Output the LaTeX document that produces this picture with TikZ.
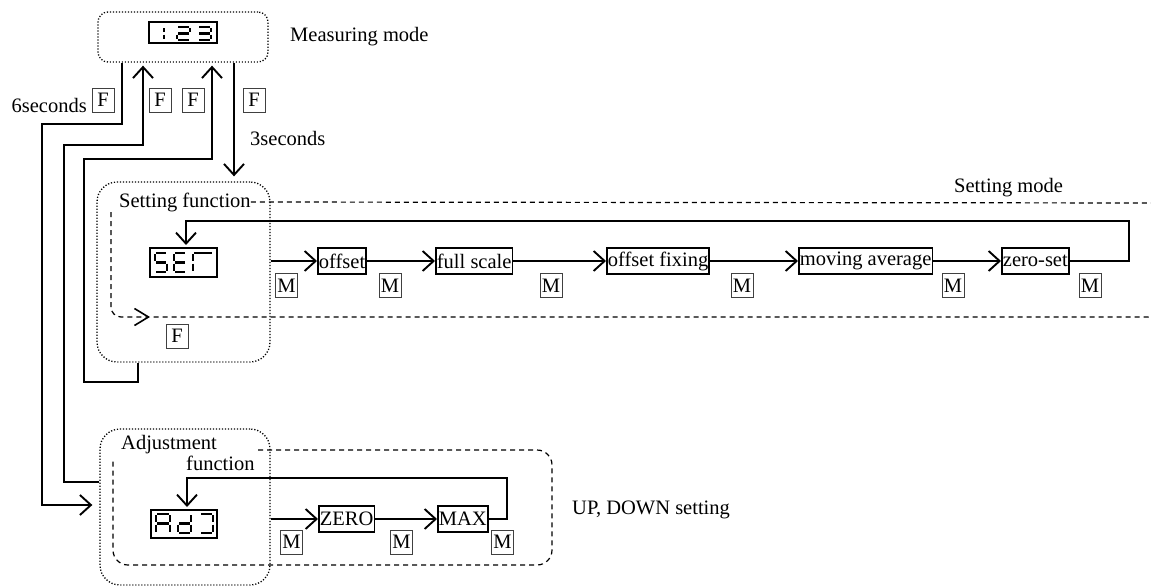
\documentclass[tikz,border=0pt]{standalone}
\usepackage{fontspec}
\setmainfont{Liberation Serif}
\usetikzlibrary{arrows.meta}
\newcommand\segdig[5]{\begin{scope}[shift={(#1,#2)}]\def\sgW{#3}\def\sgH{#4}#5\end{scope}}
\newcommand\sgA{\draw[segl] (1.2,0) -- (\sgW-1.2,0);}
\newcommand\sgB{\draw[segl] (\sgW,1.2) -- (\sgW,\sgH/2-1.2);}
\newcommand\sgC{\draw[segl] (\sgW,\sgH/2+1.2) -- (\sgW,\sgH-1.2);}
\newcommand\sgD{\draw[segl] (1.2,\sgH) -- (\sgW-1.2,\sgH);}
\newcommand\sgE{\draw[segl] (0,\sgH/2+1.2) -- (0,\sgH-1.2);}
\newcommand\sgF{\draw[segl] (0,1.2) -- (0,\sgH/2-1.2);}
\newcommand\sgG{\draw[segl] (1.2,\sgH/2) -- (\sgW-1.2,\sgH/2);}
\begin{document}
\begin{tikzpicture}[x=1pt,y=-1pt,
  every node/.style={font=\fontsize{20.5pt}{23pt}\selectfont},
  >={Straight Barb[length=11pt,width=20pt]},
  conn/.style={line width=1.9pt},
  segl/.style={line width=2.5pt},
  dotbox/.style={draw,line width=1.3pt,dash pattern=on 1.2pt off 1.8pt,rounded corners=#1},
  dashline/.style={line width=1.2pt,dash pattern=on 5pt off 4pt},
  disp/.style={draw,line width=2pt},
  item/.style={draw,line width=1.8pt,inner xsep=1pt,inner ysep=0pt,minimum height=26pt,anchor=west},
  key/.style={draw=black!75,line width=0.9pt,minimum width=22pt,minimum height=24pt,inner sep=0pt},
  txt/.style={inner sep=0pt,anchor=west}]
\useasboundingbox (0,0) rectangle (1151,586);

% ---- main mode boxes
\node[dotbox=10pt,minimum width=170pt,minimum height=50pt] (meas) at (183,37) {};
\node[dotbox=20pt,minimum width=173pt,minimum height=180pt] (setf) at (183.5,272) {};
\node[dotbox=20pt,minimum width=170pt,minimum height=156pt] (adjf) at (185,507) {};

% ---- displays
\node[disp,minimum width=68pt,minimum height=21pt] (measd) at (183,32.5) {};
\segdig{152}{27}{12}{13}{\sgB\sgC}
\segdig{177}{27}{13}{13}{\sgA\sgB\sgG\sgE\sgD}
\segdig{198}{27}{13}{13}{\sgA\sgB\sgG\sgC\sgD}

\node[disp,minimum width=67pt,minimum height=29pt] (setd) at (183.5,262.5) {};
\segdig{155}{253}{12}{19}{\sgA\sgF\sgG\sgC\sgD}
\segdig{174}{253}{12}{19}{\sgA\sgF\sgG\sgE\sgD}
\segdig{193}{253}{20}{19}{\sgA\sgF\sgE}

\node[disp,minimum width=66pt,minimum height=28pt] (adjd) at (184,524) {};
\segdig{156}{514}{14}{19}{\sgA\sgB\sgC\sgE\sgF\sgG}
\segdig{178}{514}{13}{19}{\sgB\sgC\sgD\sgE\sgG}
\segdig{200}{514}{13}{19}{\sgA\sgB\sgC\sgD}

% ---- texts
\node[txt] (tmeas) at (290,37) {Measuring mode};
\node[txt] (t3s) at (250,138) {3seconds};
\node[inner sep=0pt,anchor=east] (t6s) at (87,105) {6seconds};
\node[txt] (tsetf) at (119,202) {Setting function};
\node[txt] (tsetm) at (954,188) {Setting mode};
\node[txt] (tadj1) at (121,445) {Adjustment};
\node[txt] (tadj2) at (186,463) {function};
\node[txt] (tup) at (572,510) {UP, DOWN setting};

% ---- F keys
\node[key] (f1) at (103,100) {F};
\node[key] (f2) at (160,100) {F};
\node[key] (f3) at (193,100) {F};
\node[key] (f4) at (254,100) {F};
\node[key] (f5) at (177,336) {F};

% ---- setting mode dashed region
\draw[dashline] (tsetf.east) -- (1158,203) [rounded corners=10pt] -- (1158,317) -- (150,317);
\draw[dashline,-{Straight Barb[length=14pt,width=17pt,line width=1.6pt]},rounded corners=10pt] (111,212) -- (111,317) -- (150,317);

% ---- adjustment dashed region
\draw[dashline,rounded corners=15pt] (258,450) -- (552,450) -- (552,565) -- (113,565) -- (113,458);

% ---- setting chain
\node[item] (off) at (317,261) {offset};
\node[item] (fs) at (435,261) {full scale};
\node[item] (ofx) at (606,261) {offset fixing};
\node[item] (mav) at (798,261) {moving average};
\node[item] (zs) at (1001,261) {zero-set};
\draw[conn,->] (off.west -| setf.east) -- (off.west);
\draw[conn,->] (off.east) -- (fs.west);
\draw[conn,->] (fs.east) -- (ofx.west);
\draw[conn,->] (ofx.east) -- (mav.west);
\draw[conn,->] (mav.east) -- (zs.west);
\draw[conn,->,shorten >=2pt] (zs.east) -| (1129,221) -| ([xshift=2.5pt]setd.north);
\node[key] (m1) at (286.5,285.5) {M};
\node[key] (m2) at (390,285.5) {M};
\node[key] (m3) at (551,285.5) {M};
\node[key] (m4) at (742,285.5) {M};
\node[key] (m5) at (953,285.5) {M};
\node[key] (m6) at (1090,285.5) {M};

% ---- adjustment chain
\node[item] (zero) at (318,519) {ZERO};
\node[item] (maxn) at (437,519) {MAX};
\draw[conn,->] (zero.west -| adjf.east) -- (zero.west);
\draw[conn,->] (zero.east) -- (maxn.west);
\draw[conn,->,shorten >=2pt] (maxn.east) -| (507,478) -| ([xshift=3pt]adjd.north);
\node[key] (m7) at (291.5,542) {M};
\node[key] (m8) at (401.5,542) {M};
\node[key] (m9) at (502.5,542) {M};

% ---- mode transitions
\draw[conn,->,shorten >=7pt] ([xshift=-61pt]meas.south) |- (42,124) |- ([yshift=2pt]adjf.west);
\draw[conn,->,shorten >=3pt] ([yshift=25pt]adjf.west) -| (64,145) -| ([xshift=-40pt]meas.south);
\draw[conn,->,shorten >=3pt] ([xshift=-45.5pt]setf.south) |- (84,382) |- (212,159) -- ([xshift=29pt]meas.south);
\draw[conn,->,shorten >=5pt] ([xshift=51pt]meas.south) -- ([xshift=51pt]meas.south |- setf.north);
\end{tikzpicture}
\end{document}
